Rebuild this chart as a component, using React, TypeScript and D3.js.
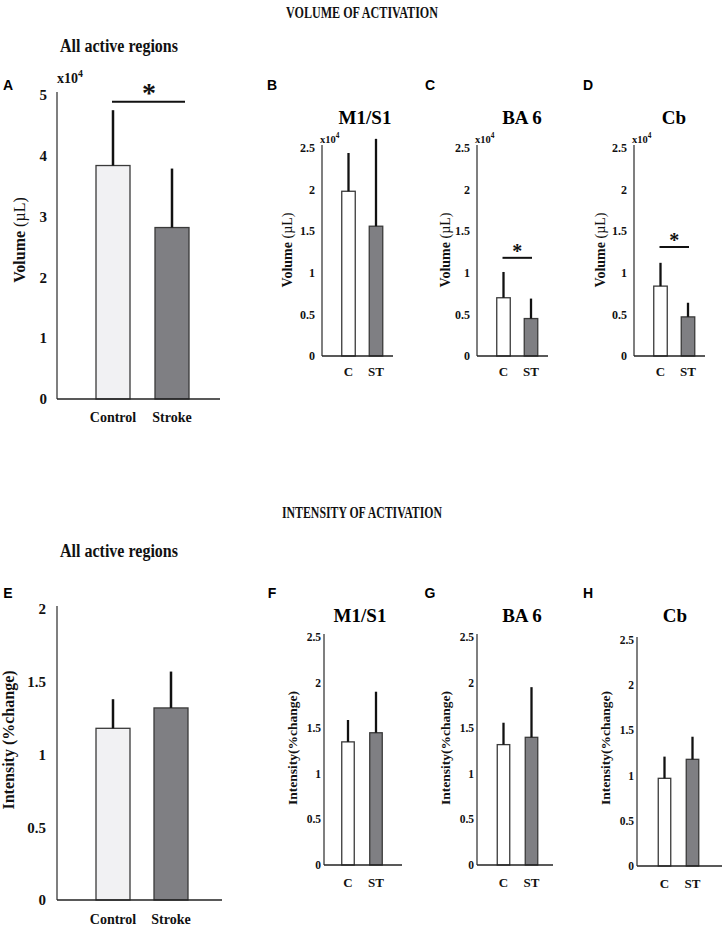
import React from 'react';
import * as d3 from 'd3';

// ---------- DATA ----------
const groupsAll = ['Control', 'Stroke'];
const groupsRegion = ['C', 'ST'];
const regionNames = ['M1/S1', 'BA 6', 'Cb'];

// Volume of activation (x10^4 µL)
const volAllMean = [3.84, 2.82];
const volAllErr = [0.91, 0.97];
const volM1Mean = [1.98, 1.56];
const volM1Err = [0.46, 1.05];
const volBA6Mean = [0.70, 0.45];
const volBA6Err = [0.31, 0.24];
const volCbMean = [0.84, 0.47];
const volCbErr = [0.28, 0.17];

// Intensity of activation (% change)
const intAllMean = [1.18, 1.32];
const intAllErr = [0.20, 0.25];
const intM1Mean = [1.35, 1.45];
const intM1Err = [0.24, 0.45];
const intBA6Mean = [1.32, 1.40];
const intBA6Err = [0.24, 0.55];
const intCbMean = [0.97, 1.18];
const intCbErr = [0.24, 0.25];

const volAllTicks = [0, 1, 2, 3, 4, 5];
const intAllTicks = [0, 0.5, 1, 1.5, 2];
const regionTicks = [0, 0.5, 1, 1.5, 2, 2.5];

// significance bar levels (data units), null = none
const volAllSig = 4.89;
const volRegionSig = [null, 1.18, 1.31];

// ---------- STYLE ----------
const SERIF = '"Liberation Serif", "Times New Roman", serif';
const SANS = '"Liberation Sans", Arial, sans-serif';

type PanelProps = {
  x0: number; yZero: number; yTop: number; maxTick: number; ticks: number[];
  cats: string[]; means: number[]; errs: number[]; fills: string[];
  off: number; step: number; bw: number; xEnd: number;
  tickSize: number; tickGap: number;
  catSize: number; catDy: number;
  errW: number;
  sig?: number | null; sigExtra?: number; sigStar?: number;
  x10?: { size: number; dx: number; dy: number } | null;
  yLabel: React.ReactNode; yLabelX: number; yLabelY: number; yLabelSize: number;
};

function Panel(p: PanelProps) {
  const y = d3.scaleLinear().domain([0, p.maxTick]).range([p.yZero, p.yTop]);
  const pi = 1 - p.bw / p.step;
  const x = d3.scaleBand<string>()
    .domain(p.cats)
    .range([p.x0 + p.off - p.step / 2, p.x0 + p.off + 1.5 * p.step])
    .paddingInner(pi)
    .paddingOuter(pi / 2);
  const bw = x.bandwidth();
  const cx = (c: string) => (x(c) as number) + bw / 2;
  return (
    <g>
      {/* y axis */}
      <line x1={p.x0} x2={p.x0} y1={p.yZero} y2={y(p.maxTick) - 3} stroke="#555" strokeWidth={1.5} />
      {p.ticks.map((t) => (
        <text key={t} x={p.x0 - p.tickGap} y={y(t)} dy="0.35em" textAnchor="end"
          fontFamily={SERIF} fontWeight="bold" fontSize={p.tickSize} fill="#111">{String(t)}</text>
      ))}
      {p.x10 && (
        <text x={p.x0 + p.x10.dx} y={y(p.maxTick) + p.x10.dy} fontFamily={SERIF} fontWeight="bold"
          fontSize={p.x10.size} fill="#111">x10<tspan dy={-p.x10.size * 0.45} fontSize={p.x10.size * 0.7}>4</tspan></text>
      )}
      {/* bars */}
      {p.cats.map((c, i) => (
        <g key={c}>
          <rect x={x(c)} y={y(p.means[i])} width={bw} height={p.yZero - y(p.means[i])}
            fill={p.fills[i]} stroke="#3a3a3a" strokeWidth={1.3} />
          <line x1={cx(c)} x2={cx(c)} y1={y(p.means[i])} y2={y(p.means[i] + p.errs[i])}
            stroke="#111" strokeWidth={p.errW} />
        </g>
      ))}
      {/* x axis */}
      <line x1={p.x0} x2={p.xEnd} y1={p.yZero} y2={p.yZero} stroke="#222" strokeWidth={1.5} />
      {p.cats.map((c) => (
        <text key={c} x={cx(c)} y={p.yZero + p.catDy} dy="0.35em" textAnchor="middle"
          fontFamily={SERIF} fontWeight="bold" fontSize={p.catSize} fill="#111">{c}</text>
      ))}
      {/* significance */}
      {p.sig != null && (
        <g>
          <line x1={cx(p.cats[0]) - 1} x2={cx(p.cats[1]) + (p.sigExtra || 1)} y1={y(p.sig)} y2={y(p.sig)}
            stroke="#111" strokeWidth={2} />
          <text x={(cx(p.cats[0]) + cx(p.cats[1]) + (p.sigExtra || 0)) / 2} y={y(p.sig) - 2}
            textAnchor="middle" fontFamily={SERIF} fontWeight="bold" fontSize={p.sigStar || 18}
            dy="0.1em" fill="#111">*</text>
        </g>
      )}
      {/* y label */}
      <text transform={`translate(${p.yLabelX},${p.yLabelY}) rotate(-90)`} textAnchor="middle"
        fontFamily={SERIF} fontWeight="bold" fontSize={p.yLabelSize} fill="#111">{p.yLabel}</text>
    </g>
  );
}

const volLabel = (
  <>
    <tspan>Volume </tspan>
    <tspan fontWeight="normal">(µL)</tspan>
  </>
);

const lightFill = ['#f1f1f3', '#7f7f83'];
const whiteFill = ['#ffffff', '#7f7f83'];

export default function App() {
  const volRegionMeans = [volM1Mean, volBA6Mean, volCbMean];
  const volRegionErrs = [volM1Err, volBA6Err, volCbErr];
  const intRegionMeans = [intM1Mean, intBA6Mean, intCbMean];
  const intRegionErrs = [intM1Err, intBA6Err, intCbErr];

  const topX0 = [322, 477, 634];
  const topLabX = [292, 450, 605];
  const topTitleX = [365, 522, 674];
  const topLetterX = [272, 430, 588];
  const topLetters = ['B', 'C', 'D'];
  const botX0 = [324, 477, 637];
  const botLabX = [297, 450, 610];
  const botTitleX = [360, 522, 675];
  const botLetters = ['F', 'G', 'H'];
  const botOff = [24, 26.5, 27.5];
  const botXEnd = [402, 553, 722];
  const botZero = [865, 865, 866];
  const botTop = [637, 637, 640];

  return (
    <svg width={725} height={927} style={{ position: 'absolute', left: 0, top: 0, background: '#fff' }}>
      <rect x={0} y={0} width={725} height={927} fill="#fff" />
      {/* headings */}
      <text x={362} y={12} dy="0.35em" textAnchor="middle" fontFamily={SERIF} fontWeight="bold" fontSize={17}
        textLength={152} lengthAdjust="spacingAndGlyphs" fill="#111">VOLUME OF ACTIVATION</text>
      <text x={362} y={512} dy="0.35em" textAnchor="middle" fontFamily={SERIF} fontWeight="bold" fontSize={17}
        textLength={160} lengthAdjust="spacingAndGlyphs" fill="#111">INTENSITY OF ACTIVATION</text>
      <text x={60} y={46} dy="0.35em" fontFamily={SERIF} fontWeight="bold" fontSize={18}
        textLength={118} lengthAdjust="spacingAndGlyphs" fill="#111">All active regions</text>
      <text x={60} y={551} dy="0.35em" fontFamily={SERIF} fontWeight="bold" fontSize={18}
        textLength={118} lengthAdjust="spacingAndGlyphs" fill="#111">All active regions</text>

      {/* Panel letters */}
      <text x={8} y={85} dy="0.35em" textAnchor="middle" fontFamily={SANS} fontWeight="bold" fontSize={14}>A</text>
      <text x={8} y={593} dy="0.35em" textAnchor="middle" fontFamily={SANS} fontWeight="bold" fontSize={14}>E</text>
      {topLetters.map((l, i) => (
        <text key={l} x={topLetterX[i]} y={85} dy="0.35em" textAnchor="middle" fontFamily={SANS} fontWeight="bold" fontSize={14}>{l}</text>
      ))}
      {botLetters.map((l, i) => (
        <text key={l} x={topLetterX[i]} y={593} dy="0.35em" textAnchor="middle" fontFamily={SANS} fontWeight="bold" fontSize={14}>{l}</text>
      ))}
      {regionNames.map((r, i) => (
        <g key={r}>
          <text x={topTitleX[i]} y={117} dy="0.35em" textAnchor="middle" fontFamily={SERIF} fontWeight="bold" fontSize={19}>{r}</text>
          <text x={botTitleX[i]} y={615} dy="0.35em" textAnchor="middle" fontFamily={SERIF} fontWeight="bold" fontSize={19}>{r}</text>
        </g>
      ))}

      {/* A */}
      <Panel x0={57} yZero={399} yTop={95} maxTick={5} ticks={volAllTicks}
        cats={groupsAll} means={volAllMean} errs={volAllErr} fills={lightFill}
        off={56} step={59} bw={34} xEnd={220}
        tickSize={15} tickGap={10} catSize={14} catDy={18} errW={2.5}
        sig={volAllSig} sigExtra={13} sigStar={28}
        x10={{ size: 14, dx: 0, dy: -12 }}
        yLabel={volLabel} yLabelX={25} yLabelY={240} yLabelSize={16} />

      {/* B, C, D */}
      {regionNames.map((r, i) => (
        <Panel key={'v' + r} x0={topX0[i]} yZero={356} yTop={148} maxTick={2.5} ticks={regionTicks}
          cats={groupsRegion} means={volRegionMeans[i]} errs={volRegionErrs[i]} fills={whiteFill}
          off={26.5} step={27.5} bw={13.5} xEnd={topX0[i] + 71}
          tickSize={12} tickGap={7} catSize={13} catDy={15} errW={2.3}
          sig={volRegionSig[i]} sigStar={20}
          x10={{ size: 10.5, dx: -2, dy: -5 }}
          yLabel={volLabel} yLabelX={topLabX[i]} yLabelY={250} yLabelSize={14} />
      ))}

      {/* E */}
      <Panel x0={57} yZero={900} yTop={609} maxTick={2} ticks={intAllTicks}
        cats={groupsAll} means={intAllMean} errs={intAllErr} fills={lightFill}
        off={56} step={58} bw={34} xEnd={222}
        tickSize={15} tickGap={11} catSize={14} catDy={19} errW={2.5}
        yLabel={'Intensity (%change)'} yLabelX={14} yLabelY={740} yLabelSize={16} />

      {/* F, G, H */}
      {regionNames.map((r, i) => (
        <Panel key={'i' + r} x0={botX0[i]} yZero={botZero[i]} yTop={botTop[i]} maxTick={2.5} ticks={regionTicks}
          cats={groupsRegion} means={intRegionMeans[i]} errs={intRegionErrs[i]} fills={whiteFill}
          off={botOff[i]} step={28} bw={12.5} xEnd={botXEnd[i]}
          tickSize={11.5} tickGap={3} catSize={13} catDy={17} errW={2.3}
          yLabel={'Intensity(%change)'} yLabelX={botLabX[i]} yLabelY={748} yLabelSize={13.5} />
      ))}
    </svg>
  );
}
